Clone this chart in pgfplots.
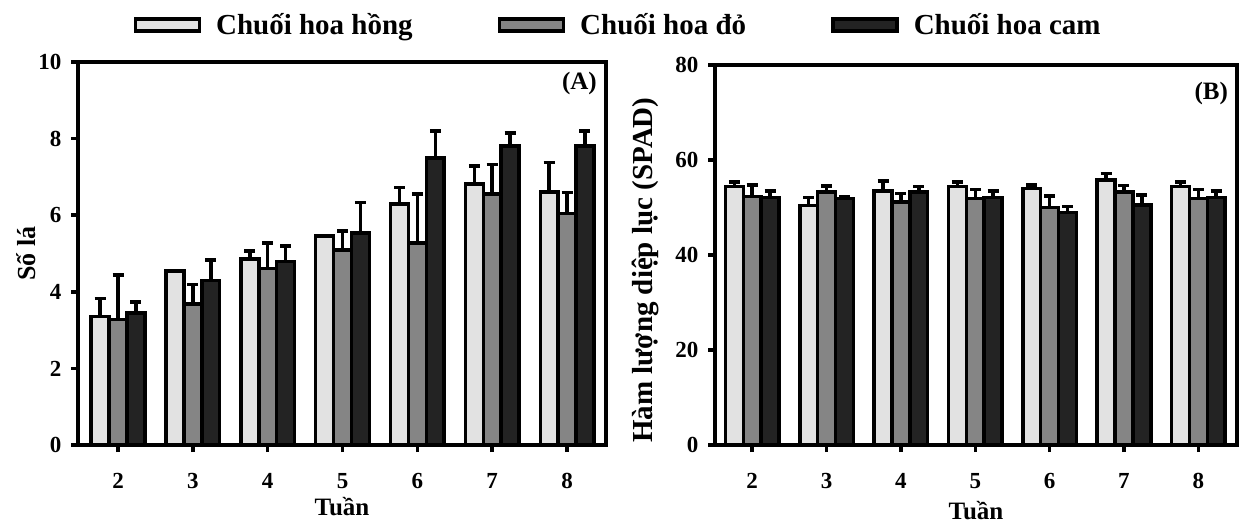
\documentclass[border=0pt]{standalone}
\usepackage{pgfplots}
\usepackage{pgfplotstable}
\pgfplotsset{compat=1.18}
\usepackage{fontspec}
\setmainfont{Liberation Serif}
\definecolor{cL}{HTML}{E2E2E2}
\definecolor{cM}{HTML}{858585}
\definecolor{cD}{HTML}{232323}

\pgfplotstableread{
x a ea b eb c ec
0 3.35 0.48 3.28 1.16 3.45 0.29
1 4.54 0.00 3.68 0.51 4.29 0.54
2 4.86 0.21 4.61 0.66 4.79 0.41
3 5.46 0.00 5.09 0.50 5.54 0.79
4 6.29 0.43 5.28 1.27 7.49 0.71
5 6.81 0.47 6.55 0.78 7.81 0.33
6 6.61 0.76 6.05 0.54 7.81 0.39
}\dataA

\pgfplotstableread{
x a ea b eb c ec
0 54.4 1.0 52.3 2.4 52.1 1.4
1 50.4 1.7 53.3 1.2 51.9 0.4
2 53.5 2.1 51.2 1.8 53.3 1.1
3 54.4 1.0 51.9 1.9 52.1 1.4
4 54.0 0.7 50.0 2.4 49.0 1.2
5 55.8 1.4 53.3 1.3 50.5 2.1
6 54.4 1.0 51.9 1.9 52.1 1.4
}\dataB

\pgfplotsset{
  common/.style={
    scale only axis,
    xtick={0,...,6}, xticklabels={2,3,4,5,6,7,8},
    tick align=outside, xtick pos=bottom, ytick pos=left,
    major tick length=7pt,
    every tick/.style={black, line width=3.5pt},
    axis line style={line width=3.5pt},
    axis on top,
    ybar=0pt,
    tick label style={font=\bfseries\fontsize{23}{23}\selectfont},
    /pgf/number format/assume math mode=true,
    xticklabel style={yshift=-18pt},
    yticklabel style={xshift=-6pt},
    xlabel style={font=\bfseries\fontsize{25}{25}\selectfont},
  },
  err/.style={
    error bars/.cd, y dir=plus, y explicit,
    error bar style={line width=3.5pt, black},
    error mark options={rotate=90, line width=3.5pt, mark size=5.5pt, black}},
  sA/.style={fill=cL, draw=black, line width=3.5pt,
    legend image code/.code={\draw[fill=cL, draw=black, line width=3.5pt] (0pt,-6pt) rectangle (64pt,6pt); \path (77pt,0pt);},
    err},
  sB/.style={fill=cM, draw=black, line width=3.5pt,
    legend image code/.code={\draw[fill=cM, draw=black, line width=3.5pt] (0pt,-6pt) rectangle (64pt,6pt); \path (77pt,0pt);},
    err},
  sC/.style={fill=cD, draw=black, line width=3.5pt,
    legend image code/.code={\draw[fill=cD, draw=black, line width=3.5pt] (0pt,-6pt) rectangle (64pt,6pt); \path (77pt,0pt);},
    err},
}

\begin{document}
\begin{tikzpicture}[x=1pt,y=1pt]
\path[use as bounding box] (0,0) rectangle (1241,-524);

\begin{axis}[common,
  width=528pt, height=383pt,
  at={(78pt,-445pt)}, anchor=south west,
  xmin=-0.535, xmax=6.52, ymin=0, ymax=10,
  ytick={0,2,4,6,8,10},
  bar width=0.239,
  xlabel={Tuần},
  xlabel style={at={(axis description cs:0.5,-0.162)}, anchor=center},
  ylabel={Số lá},
  ylabel style={at={(axis description cs:-0.098,0.5)}, anchor=center, font=\bfseries\fontsize{26}{26}\selectfont},
  legend style={at={(1.023,1.097)}, anchor=center, draw=none, fill=none,
    legend columns=3,
    font=\bfseries\fontsize{29}{29}\selectfont,
    /tikz/every even column/.append style={column sep=83pt}},
]
\addplot+[sA] table[x=x, y=a, y error=ea] {\dataA};
\addplot+[sB] table[x=x, y=b, y error=eb] {\dataA};
\addplot+[sC] table[x=x, y=c, y error=ec] {\dataA};
\legend{Chuối hoa hồng, Chuối hoa đỏ, Chuối hoa cam}
\node[anchor=north east, font=\bfseries\fontsize{25}{25}\selectfont, inner sep=0pt] at (rel axis cs:0.983,0.974) {(A)};
\end{axis}

\begin{axis}[common,
  width=522pt, height=380pt,
  at={(715pt,-445pt)}, anchor=south west,
  xmin=-0.5, xmax=6.52, ymin=0, ymax=80,
  ytick={0,20,40,60,80},
  bar width=0.24,
  xlabel={Tuần},
  xlabel style={at={(axis description cs:0.5,-0.172)}, anchor=center},
  ylabel={Hàm lượng diệp lục (SPAD)},
  ylabel style={at={(axis description cs:-0.134,0.46)}, anchor=center, font=\bfseries\fontsize{29}{29}\selectfont},
]
\addplot+[sA] table[x=x, y=a, y error=ea] {\dataB};
\addplot+[sB] table[x=x, y=b, y error=eb] {\dataB};
\addplot+[sC] table[x=x, y=c, y error=ec] {\dataB};
\node[anchor=north east, font=\bfseries\fontsize{25}{25}\selectfont, inner sep=0pt] at (rel axis cs:0.983,0.955) {(B)};
\end{axis}
\end{tikzpicture}
\end{document}
